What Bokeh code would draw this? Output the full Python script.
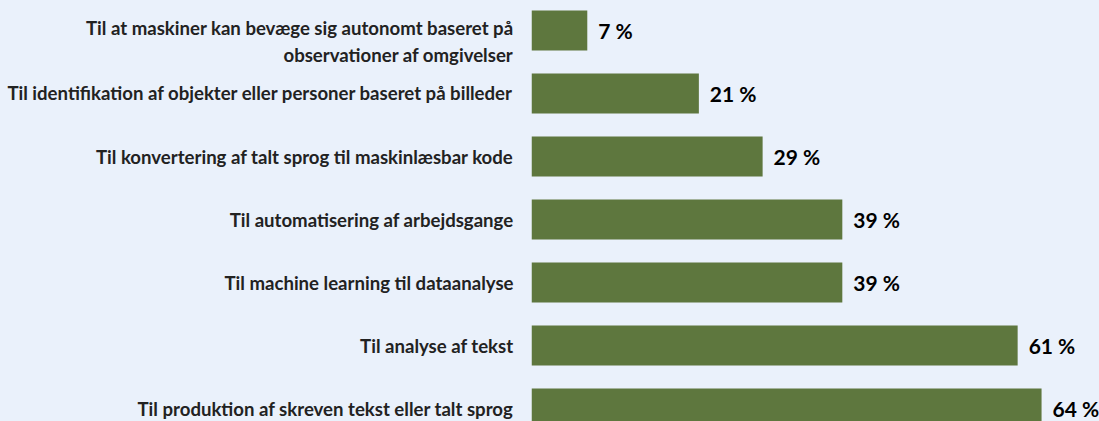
from bokeh.plotting import figure
from bokeh.models import ColumnDataSource, FixedTicker, Range1d
from bokeh.core.properties import value
from bokeh.embed import file_html
from bokeh.resources import INLINE

categories = [
    "Til at maskiner kan bevæge sig autonomt baseret på\nobservationer af omgivelser",
    "Til identifikation af objekter eller personer baseret på billeder",
    "Til konvertering af talt sprog til maskinlæsbar kode",
    "Til automatisering af arbejdsgange",
    "Til machine learning til dataanalyse",
    "Til analyse af tekst",
    "Til produktion af skreven tekst eller talt sprog",
]
values = [7, 21, 29, 39, 39, 61, 64]

n = len(categories)
ypos = [n - 1 - i for i in range(n)]
labels = [f"{v} %" for v in values]

src = ColumnDataSource(dict(y=ypos, v=values, lab=labels))

BG = "#eaf1fb"
p = figure(width=1099, height=421, output_backend="svg", toolbar_location=None,
           x_range=Range1d(0, 71.27), y_range=Range1d(-0.206, 6.476),
           background_fill_color=BG, border_fill_color=BG,
           min_border_left=531, min_border_right=0, min_border_top=0, min_border_bottom=0)
p.outline_line_color = None
p.grid.grid_line_color = None
p.xaxis.visible = False

p.hbar(y="y", right="v", left=0, height=40/63, source=src, color="#5e773e", line_color=None)
p.text(x="v", y="y", text="lab", source=src, x_offset=11, text_baseline="middle",
       text_align="left", text_font=value("Lato"), text_font_style="bold",
       text_font_size="21px", text_color="#000000")

# two-line labels hang from the bar centre (first line aligned with the bar)
tick_pos = [y - (11 / 63 if "\n" in c else 0) for y, c in zip(ypos, categories)]

ax = p.yaxis[0]
ax.ticker = FixedTicker(ticks=tick_pos)
ax.major_label_overrides = {t: c for t, c in zip(tick_pos, categories)}
ax.axis_line_color = None
ax.major_tick_line_color = None
ax.minor_tick_line_color = None
ax.major_tick_in = 0
ax.major_tick_out = 0
ax.major_label_standoff = 18
ax.major_label_text_font = "Lato"
ax.major_label_text_font_style = "bold"
ax.major_label_text_font_size = "18.6px"
ax.major_label_text_color = "#222222"

html = file_html(p, INLINE).replace("<body>", '<body style="background:%s">' % BG)
open("out.html", "w").write(html)
